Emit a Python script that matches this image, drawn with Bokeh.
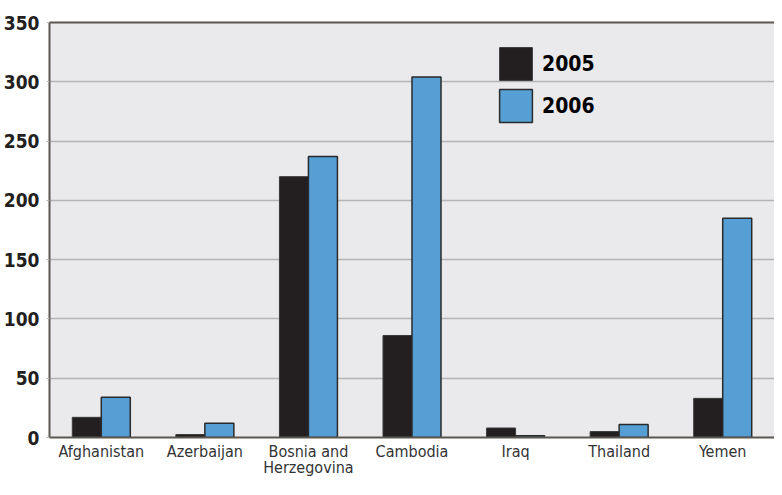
from bokeh.plotting import figure
from bokeh.models import (FactorRange, Legend, LegendItem, ColumnDataSource,
                          SingleIntervalTicker, CategoricalAxis)
from bokeh.transform import dodge
from bokeh.embed import file_html
from bokeh.resources import INLINE

countries = ["Afghanistan", "Azerbaijan", "Bosnia and\nHerzegovina", "Cambodia", "Iraq", "Thailand", "Yemen"]
v2005 = [17, 2.5, 220, 86, 8, 5, 33]
v2006 = [34, 12, 237, 304, 1.5, 11, 185]
series = ["2005", "2006"]

FONT = "'Liberation Sans Narrow', 'DejaVu Sans Condensed', 'Roboto Condensed', Roboto, sans-serif"

src = ColumnDataSource(dict(c=countries, a=v2005, b=v2006))

p = figure(x_range=FactorRange(*countries, range_padding=0), y_range=(0, 350),
           width=774, height=479, output_backend="svg", toolbar_location=None,
           min_border_left=42, min_border_top=22, min_border_right=0, min_border_bottom=0)
p.background_fill_color = "#EAEAEC"
p.border_fill_color = "white"
p.outline_line_color = None

r1 = p.vbar(x=dodge("c", -0.14, range=p.x_range), top="a", width=0.28, source=src,
            fill_color="#231F20", line_color="#3a3a3a", line_width=1)
r2 = p.vbar(x=dodge("c", 0.14, range=p.x_range), top="b", width=0.28, source=src,
            fill_color="#559FD5", line_color="#2a2a2a", line_width=1.5)

p.xgrid.grid_line_color = None
p.ygrid.grid_line_color = "#B4B4B4"
p.ygrid.grid_line_width = 1.5
p.yaxis.ticker = SingleIntervalTicker(interval=50)

p.yaxis.axis_line_color = "#5A5650"
p.yaxis.axis_line_width = 2
p.yaxis.major_tick_line_color = "#B4B4B4"
p.yaxis.major_tick_in = 0
p.yaxis.major_tick_out = 3
p.yaxis.minor_tick_line_color = None
p.yaxis.major_label_text_font = FONT
p.yaxis.major_label_text_font_style = "bold"
p.yaxis.major_label_text_font_size = "19px"
p.yaxis.major_label_text_color = "#231F20"
p.yaxis.major_label_standoff = 6

p.xaxis.axis_line_color = "#5A5650"
p.xaxis.axis_line_width = 2
p.xaxis.major_tick_line_color = None
p.xaxis.major_tick_in = 0
p.xaxis.major_tick_out = 0
p.xaxis.minor_tick_line_color = None
p.xaxis.major_label_text_font = FONT
p.xaxis.major_label_text_font_size = "16px"
p.xaxis.major_label_text_line_height = 0.85
p.xaxis.major_label_text_color = "#333333"
p.xaxis.major_label_standoff = 4

top_axis = CategoricalAxis(axis_line_color="#5A5650", axis_line_width=2,
                           major_tick_line_color=None, minor_tick_line_color=None,
                           major_label_text_font_size="0px", major_label_text_alpha=0)
p.add_layout(top_axis, "above")

legend = Legend(items=[LegendItem(label=series[0], renderers=[r1]),
                       LegendItem(label=series[1], renderers=[r2])],
                location=(446, 311), orientation="vertical",
                glyph_width=41, glyph_height=41, spacing=1, padding=0, margin=0,
                label_text_font=FONT, label_text_font_style="bold",
                label_text_font_size="21px", label_text_color="black",
                label_standoff=6, border_line_color=None, background_fill_alpha=0)
p.add_layout(legend)

open("out.html", "w").write(file_html(p, INLINE))
